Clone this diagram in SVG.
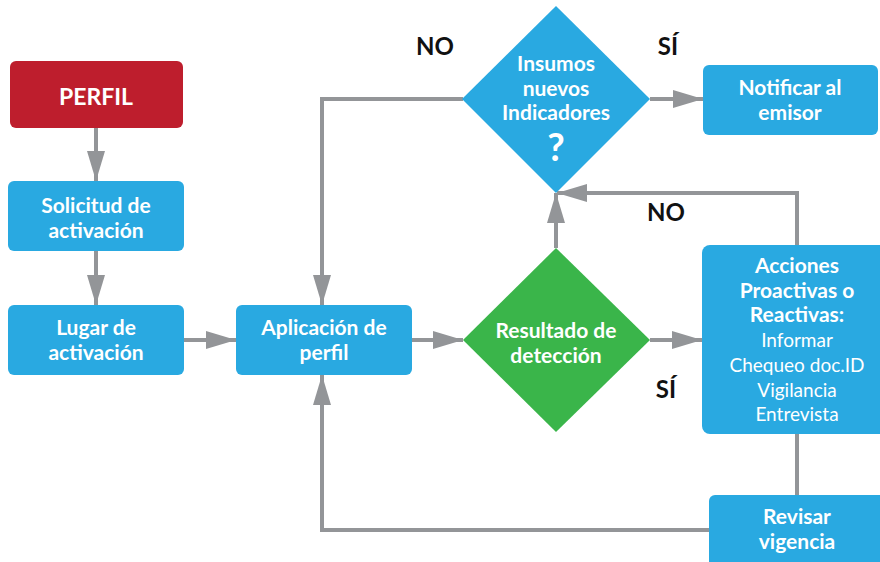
<svg xmlns="http://www.w3.org/2000/svg" width="880" height="562" viewBox="0 0 880 562">
<style>
.box{fill:#29A9E1}
.red{fill:#BE1E2D}
.green{fill:#3AB54A}
.t{font-family:Lato,"Open Sans",sans-serif;font-weight:bold;font-size:21px;fill:#fff;text-anchor:middle}
.r{font-weight:normal;font-size:19px}
.lbl{font-family:Lato,"Open Sans",sans-serif;font-weight:bold;font-size:24px;fill:#111;text-anchor:middle}
.c{fill:none;stroke:#939598;stroke-width:4}
</style>
<defs>
<marker id="ah" markerUnits="userSpaceOnUse" markerWidth="32" markerHeight="18" refX="30" refY="9" orient="auto" viewBox="0 0 32 18">
<path d="M0,0 L30,9 L0,18 z" fill="#939598"/>
</marker>
</defs>
<g id="connectors">
<path class="c" d="M96,128 V181" marker-end="url(#ah)"/>
<path class="c" d="M96,251 V305" marker-end="url(#ah)"/>
<path class="c" d="M184,340 H236" marker-end="url(#ah)"/>
<path class="c" d="M412,340 H463" marker-end="url(#ah)"/>
<path class="c" d="M556,248 V193" marker-end="url(#ah)"/>
<path class="c" d="M650,340 H702" marker-end="url(#ah)"/>
<path class="c" d="M797,245 V193 H557" marker-end="url(#ah)"/>
<path class="c" d="M463,99 H322 V305" marker-end="url(#ah)"/>
<path class="c" d="M650,99 H703" marker-end="url(#ah)"/>
<path class="c" d="M797,434 V495"/>
<path class="c" d="M709,530 H322 V375" marker-end="url(#ah)"/>
</g>
<g id="perfil">
<rect class="red" x="10" y="61" width="173" height="67" rx="6"/>
<text class="t" x="96" y="105" style="font-size:23px">PERFIL</text>
</g>
<g id="solicitud">
<rect class="box" x="8" y="181" width="176" height="70" rx="6"/>
<text class="t" x="96" y="213">Solicitud de</text>
<text class="t" x="96" y="238">activación</text>
</g>
<g id="lugar">
<rect class="box" x="8" y="305" width="176" height="70" rx="6"/>
<text class="t" x="96" y="335">Lugar de</text>
<text class="t" x="96" y="360">activación</text>
</g>
<g id="aplicacion">
<rect class="box" x="236" y="305" width="176" height="70" rx="6"/>
<text class="t" x="324" y="335">Aplicación de</text>
<text class="t" x="324" y="360">perfil</text>
</g>
<g id="insumos">
<polygon class="box" points="556,6 650,99 556,193 462,99"/>
<text class="t" x="556" y="71">Insumos</text>
<text class="t" x="556" y="96">nuevos</text>
<text class="t" x="556" y="120">Indicadores</text>
<text class="t" x="556" y="161" style="font-size:38px">?</text>
</g>
<g id="notificar">
<rect class="box" x="703" y="65" width="175" height="70" rx="6"/>
<text class="t" x="790" y="95">Notificar al</text>
<text class="t" x="790" y="120">emisor</text>
</g>
<g id="resultado">
<polygon class="green" points="556,248 650,340 556,432 463,340"/>
<text class="t" x="556" y="338">Resultado de</text>
<text class="t" x="556" y="363">detección</text>
</g>
<g id="acciones">
<rect class="box" x="702" y="245" width="190" height="189" rx="8"/>
<text class="t" x="797" y="273">Acciones</text>
<text class="t" x="797" y="298">Proactivas o</text>
<text class="t" x="797" y="322">Reactivas:</text>
<text class="t r" x="797" y="347">Informar</text>
<text class="t r" x="797" y="372">Chequeo doc.ID</text>
<text class="t r" x="797" y="397">Vigilancia</text>
<text class="t r" x="797" y="421">Entrevista</text>
</g>
<g id="revisar">
<rect class="box" x="709" y="495" width="180" height="80" rx="6"/>
<text class="t" x="797" y="524">Revisar</text>
<text class="t" x="797" y="549">vigencia</text>
</g>
<g id="labels">
<text class="lbl" x="435" y="55">NO</text>
<text class="lbl" x="668" y="55">SÍ</text>
<text class="lbl" x="666" y="221">NO</text>
<text class="lbl" x="666" y="398">SÍ</text>
</g>
</svg>
